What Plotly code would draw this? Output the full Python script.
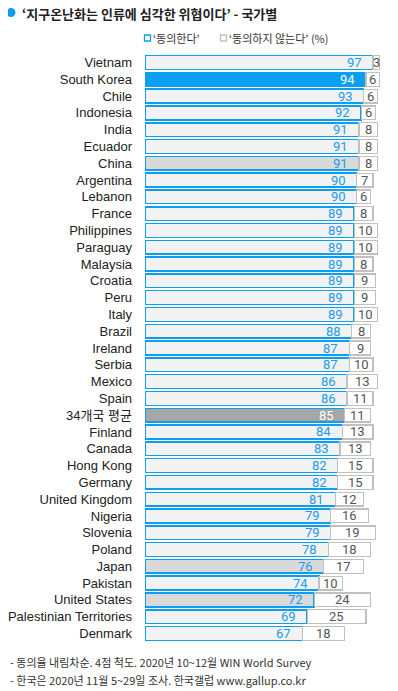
import plotly.graph_objects as go

countries = ["Vietnam", "South Korea", "Chile", "Indonesia", "India", "Ecuador", "China",
             "Argentina", "Lebanon", "France", "Philippines", "Paraguay", "Malaysia", "Croatia",
             "Peru", "Italy", "Brazil", "Ireland", "Serbia", "Mexico", "Spain", "34개국 평균",
             "Finland", "Canada", "Hong Kong", "Germany", "United Kingdom", "Nigeria", "Slovenia",
             "Poland", "Japan", "Pakistan", "United States", "Palestinian Territories", "Denmark"]
agree = [97, 94, 93, 92, 91, 91, 91, 90, 90, 89, 89, 89, 89, 89, 89, 89, 88, 87, 87, 86, 86, 85,
         84, 83, 82, 82, 81, 79, 79, 78, 76, 74, 72, 69, 67]
disagree = [3, 6, 6, 6, 8, 8, 8, 7, 6, 8, 10, 10, 8, 9, 9, 10, 8, 9, 10, 13, 11, 11,
            13, 13, 15, 15, 12, 16, 19, 18, 17, 10, 24, 25, 18]

BLUE = "#0a9ff0"
KOREA = "South Korea"
AVG = "34개국 평균"
HIGHLIGHT = {"China", "Japan", "United States"}

def fill_for(c):
    if c == KOREA:
        return BLUE
    if c == AVG:
        return "#a6a6a6"
    if c in HIGHLIGHT:
        return "#d9d9d9"
    return "#f2f2f2"

fills = [fill_for(c) for c in countries]

OFF = 8  # page body margin
W, H = 398 - OFF, 691 - OFF
plot_top, plot_bot = 52.5 - OFF, 643.1 - OFF
L = 145 - OFF
R = W - (380 - OFF)

fig = go.Figure()
fig.add_trace(go.Bar(
    y=countries, x=agree, orientation="h", name="'동의한다'",
    marker=dict(color=fills, line=dict(color=BLUE, width=1.5)),
    hoverinfo="skip",
))
fig.add_trace(go.Bar(
    y=countries, x=disagree, orientation="h", name="'동의하지 않는다'",
    marker=dict(color="white", line=dict(color="#c0c0c0", width=1.3)),
    hoverinfo="skip",
))

num_font = "Roboto, sans-serif"
ann = []
for c, a, d in zip(countries, agree, disagree):
    col = "white" if c in (KOREA, AVG) else "#1a9af0"
    ann.append(dict(x=a, y=c, xref="x", yref="y", text=str(a), showarrow=False,
                    xanchor="right", xshift=-9, font=dict(family=num_font, size=13, color=col)))
    ann.append(dict(x=a + d / 2, y=c, xref="x", yref="y", text=str(d), showarrow=False,
                    xanchor="center", font=dict(family=num_font, size=13, color="#555555")))

def py(ypx):
    return (plot_bot - (ypx - OFF)) / (plot_bot - plot_top)

def px(xpx):
    return ((xpx - OFF) - L) / (W - L - R)

kfont = "Noto Sans CJK KR, sans-serif"
shapes = [
    dict(type="circle", xref="paper", yref="paper", x0=px(6.5), x1=px(15.5), y0=py(16.5), y1=py(7.5),
         fillcolor=BLUE, line=dict(width=0)),
    dict(type="rect", xref="paper", yref="paper", x0=px(144.5), x1=px(150.5), y0=py(40.5), y1=py(34.5),
         fillcolor="white", line=dict(color=BLUE, width=1.3)),
    dict(type="rect", xref="paper", yref="paper", x0=px(220.5), x1=px(226.5), y0=py(40.5), y1=py(34.5),
         fillcolor="white", line=dict(color="#bfbfbf", width=1.3)),
]
ann.append(dict(x=px(20), y=py(13), xref="paper", yref="paper",
                text="<b>‘지구온난화는 인류에 심각한 위협이다’ - 국가별</b>", showarrow=False,
                xanchor="left", yanchor="middle", font=dict(family=kfont, size=13, color="#222222")))
ann.append(dict(x=px(151), y=py(37), xref="paper", yref="paper", text="‘동의한다’",
                showarrow=False, xanchor="left", yanchor="middle", font=dict(family=kfont, size=11, color="#333333")))
ann.append(dict(x=px(227), y=py(37), xref="paper", yref="paper", text="‘동의하지 않는다’ (%)",
                showarrow=False, xanchor="left", yanchor="middle", font=dict(family=kfont, size=11, color="#333333")))
ann.append(dict(x=px(8), y=py(662), xref="paper", yref="paper",
                text="- 동의율 내림차순. 4점 척도. 2020년 10~12월 WIN World Survey",
                showarrow=False, xanchor="left", yanchor="middle", font=dict(family=kfont, size=11, color="#333333")))
ann.append(dict(x=px(8), y=py(680), xref="paper", yref="paper",
                text="- 한국은 2020년 11월 5~29일 조사. 한국갤럽 www.gallup.co.kr",
                showarrow=False, xanchor="left", yanchor="middle", font=dict(family=kfont, size=11, color="#333333")))

fig.update_layout(
    width=W, height=H, barmode="stack", bargap=0.18, showlegend=False,
    margin=dict(l=L, r=R, t=plot_top, b=H - plot_bot, pad=0),
    paper_bgcolor="white", plot_bgcolor="white",
    xaxis=dict(range=[0, 100], visible=False, fixedrange=True),
    yaxis=dict(autorange="reversed", showgrid=False, showline=False, zeroline=False,
               ticks="", ticklabelstandoff=12, automargin=False,
               tickfont=dict(family="Liberation Sans, Noto Sans CJK KR, sans-serif", size=13, color="#222222")),
    annotations=ann, shapes=shapes,
)
fig.write_html("out.html")
